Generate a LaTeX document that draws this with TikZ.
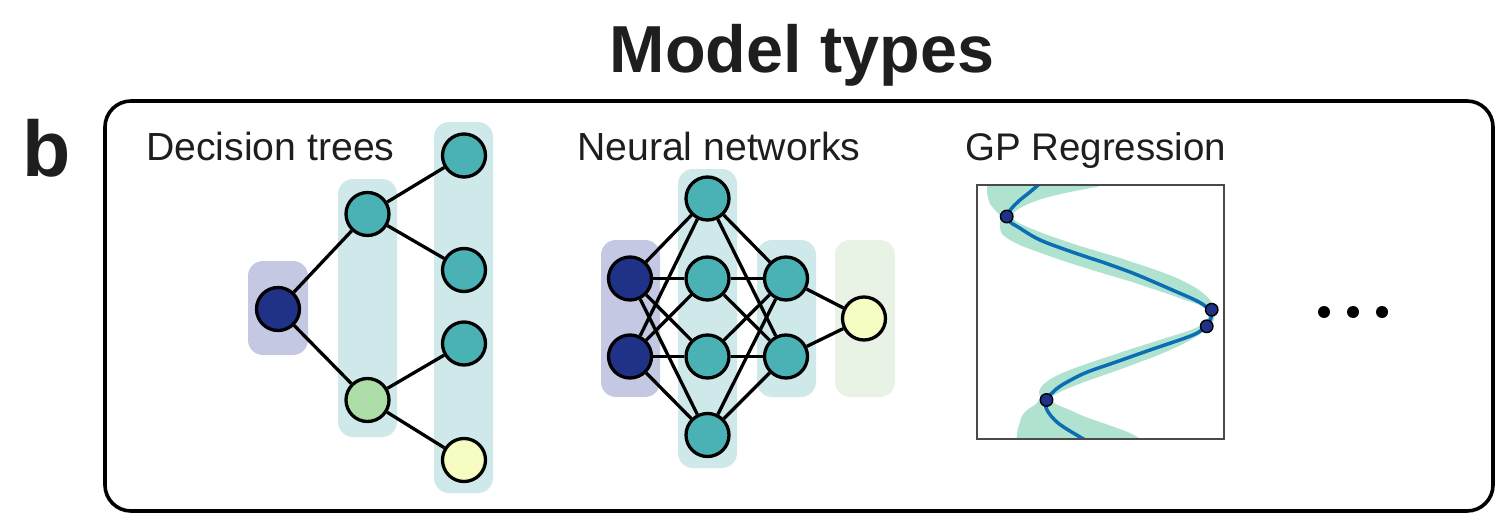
\documentclass[tikz,border=0pt]{standalone}
\usepackage{fontspec}
\setmainfont{Liberation Sans}
\begin{document}
\begin{tikzpicture}[x=1pt,y=-1pt,
  neuron/.style={circle,draw=black,line width=3.3pt,minimum size=43pt,inner sep=0pt},
  inp/.style={neuron,fill=navyc},
  hid/.style={neuron,fill=tealc},
  mid/.style={neuron,fill=greenc},
  outp/.style={neuron,fill=yellowc},
  link/.style={line width=3.3pt,black},
  lane/.style={rounded corners=15pt},
  obs/.style={circle,draw=black,line width=1.4pt,fill=navyc,minimum size=12.5pt,inner sep=0pt},
  dot/.style={circle,fill=black,minimum size=12pt,inner sep=0pt},
  heading/.style={anchor=base west,inner sep=0pt,text=textc,font=\fontsize{39.2}{45}\selectfont}
]
\definecolor{navyc}{HTML}{1F3288}
\definecolor{tealc}{HTML}{4AB1B5}
\definecolor{greenc}{HTML}{ADDEA7}
\definecolor{yellowc}{HTML}{F7FCC3}
\definecolor{lavc}{HTML}{C4C8E2}
\definecolor{paletealc}{HTML}{CFE9EA}
\definecolor{palegreenc}{HTML}{E8F3E5}
\definecolor{textc}{HTML}{1E1E1E}
\definecolor{bandc}{HTML}{AFE3D0}
\definecolor{meanc}{HTML}{0B6DB3}
\definecolor{framec}{HTML}{4A4A4A}

\useasboundingbox (0,0) rectangle (1496,519);

% title and panel letter
\node[anchor=base,inner sep=0pt,text=textc,font=\bfseries\fontsize{66.5}{76}\selectfont] (title) at (802,72) {Model types};
\node[anchor=base west,inner sep=0pt,text=textc,font=\bfseries\fontsize{79}{90}\selectfont] (letter) at (22,176) {b};

% outer panel
\draw[line width=3.6pt,rounded corners=26pt] (105,101) rectangle (1493,511);

% headings
\node[heading] (hdt) at (146,160) {Decision trees};
\node[heading] (hnn) at (577,160) {Neural networks};
\node[heading,font=\fontsize{38.5}{45}\selectfont] (hgp) at (965,160) {GP Regression};

% ---------- decision tree ----------
\fill[lane,lavc] (248,261) rectangle (308,355);
\fill[lane,paletealc] (338,179) rectangle (397,437);
\fill[lane,paletealc] (434,122) rectangle (493,493);

\node[inp]  (root) at (278,309) {};
\node[hid]  (ta)   at (367.5,214) {};
\node[mid]  (tb)   at (367.5,400) {};
\node[hid]  (l1)   at (464,155.5) {};
\node[hid]  (l2)   at (464,270) {};
\node[hid]  (l3)   at (464,343.5) {};
\node[outp] (l4)   at (464,460) {};

\draw[link] (root) -- (ta);
\draw[link] (root) -- (tb);
\draw[link] (ta) -- (l1);
\draw[link] (ta) -- (l2);
\draw[link] (tb) -- (l3);
\draw[link] (tb) -- (l4);

% ---------- neural network ----------
\fill[lane,lavc] (601,240) rectangle (660,397);
\fill[lane,paletealc] (678,169) rectangle (737,468);
\fill[lane,paletealc] (757,240) rectangle (816,397);
\fill[lane,palegreenc] (835,240) rectangle (895,397);

\node[inp] (i1) at (630,278.5) {};
\node[inp] (i2) at (630,356.5) {};
\node[hid] (h1) at (707.5,198.5) {};
\node[hid] (h2) at (707.5,278.5) {};
\node[hid] (h3) at (707.5,356.5) {};
\node[hid] (h4) at (707.5,435) {};
\node[hid] (g1) at (786,278.5) {};
\node[hid] (g2) at (786,356.5) {};
\node[outp] (o1) at (864,318.5) {};

\foreach \a in {i1,i2}{\foreach \b in {h1,h2,h3,h4}{\draw[link] (\a) -- (\b);}}
\foreach \a in {h1,h2,h3,h4}{\foreach \b in {g1,g2}{\draw[link] (\a) -- (\b);}}
\draw[link] (g1) -- (o1);
\draw[link] (g2) -- (o1);

% ---------- GP regression ----------
\begin{scope}
  \clip (977,185) rectangle (1224,439);
  % confidence band
  \fill[bandc] plot[smooth,tension=0.5] coordinates {
    (985,178) (987,186) (987,192) (988,198) (990,204) (995,210) (1000,216)
    (1000,222) (1000,228) (1002,234) (1010,240) (1022,246) (1038,252)
    (1055,258) (1073,264) (1092,270) (1112,276) (1132,282) (1150,288)
    (1168,294) (1185,300) (1202,306) (1208,312) (1207,320) (1200,326)
    (1185,332) (1166,338) (1147,344) (1128,350) (1110,356) (1092,362)
    (1075,368) (1060,374) (1049,380) (1042,386) (1039,392) (1040,398)
    (1036,404) (1027,410) (1022,416) (1020,422) (1018,428) (1017,434)
    (1016,446)}
  -- plot[smooth,tension=0.5] coordinates {
    (1152,446) (1132,434) (1117,428) (1100,422) (1083,416) (1070,410)
    (1056,404) (1051,398) (1060,392) (1074,386) (1090,380) (1107,374)
    (1124,368) (1140,362) (1156,356) (1170,350) (1183,344) (1194,338)
    (1203,332) (1210,326) (1214,320) (1215,312) (1213,306) (1210,300)
    (1204,294) (1196,288) (1185,282) (1172,276) (1156,270) (1138,264)
    (1120,258) (1100,252) (1080,246) (1062,240) (1045,234) (1030,228)
    (1017,222) (1012,216) (1017,210) (1028,204) (1045,198) (1070,192)
    (1100,186) (1125,178)} -- cycle;
  % posterior mean
  \draw[meanc,line width=3.5pt] plot[smooth,tension=0.55] coordinates {
    (1044,180) (1030,192) (1020,200) (1011,209) (1007,216.5) (1010,222)
    (1018,227) (1040,240) (1075,253) (1105,263) (1135,274) (1170,289)
    (1199,302) (1210,311) (1211,318) (1206,326) (1193,335) (1150,350)
    (1116,362) (1085,373) (1062,385) (1052,393) (1046,400) (1047,410)
    (1058,423) (1080,437) (1095,445)};
\end{scope}
\draw[framec,line width=2.8pt] (977,185) rectangle (1224,439);

\node[obs] (p1) at (1006.7,216.5) {};
\node[obs] (p2) at (1211.7,309.7) {};
\node[obs] (p3) at (1206.7,326.3) {};
\node[obs] (p4) at (1046.5,400) {};

% ellipsis
\node[dot] (d1) at (1324,312) {};
\node[dot] (d2) at (1353,312) {};
\node[dot] (d3) at (1382,312) {};
\end{tikzpicture}
\end{document}
